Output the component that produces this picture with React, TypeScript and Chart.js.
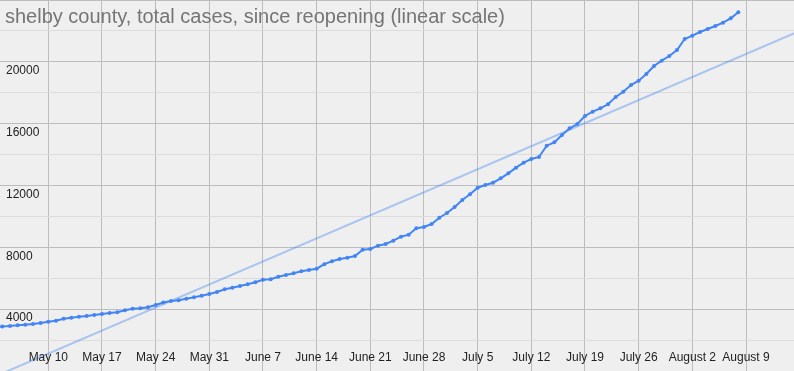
import React, { useEffect, useRef } from "react";
import { Chart, registerables } from "chart.js";

Chart.register(...registerables);

const titleText = "shelby county, total cases, since reopening (linear scale)";

// Daily totals, index 0 = May 3, last = August 8
const totalCases = [
  2840, 2880, 2911, 2955, 2996, 3040, 3105, 3190, 3254, 3383, 3448, 3513, 3558, 3623, 3687,
  3752, 3797, 3926, 4030, 4056, 4121, 4270, 4430, 4528, 4573, 4677, 4768, 4871, 4981,
  5111, 5285, 5389, 5499, 5609, 5738, 5906, 5932, 6100, 6210, 6320, 6449, 6534, 6618, 6910,
  7096, 7245, 7330, 7439, 7847, 7892, 8106, 8216, 8429, 8688, 8817, 9231, 9315, 9509, 9917,
  10221, 10609, 11062, 11431, 11858, 12032, 12181, 12466, 12789, 13152, 13475, 13714, 13844,
  14575, 14795, 15267, 15700, 15978, 16496, 16774, 16994, 17253, 17725, 18068, 18501, 18780,
  19213, 19730, 20073, 20377, 20765, 21477, 21690, 21930, 22124, 22318, 22531, 22816, 23204,
];

// x tick positions (days since May 3) and their labels
const tickDays = [7, 14, 21, 28, 35, 42, 49, 56, 63, 70, 77, 84, 91, 98];
const tickLabels = [
  "May 10", "May 17", "May 24", "May 31", "June 7", "June 14", "June 21",
  "June 28", "July 5", "July 12", "July 19", "July 26", "August 2", "August 9",
];

const yLabelValues = [4000, 8000, 12000, 16000, 20000];

// linear trendline read at its two ends (days since May 3)
const trendDays = [0, 105];
const trendValues = [-365, 22000];

const xMin = 0.7;
const xMax = 104.26;
const yMin = 0;
const yMax = 24000;
const yStep = 2000;

const overlayPlugin = {
  id: "overlayText",
  afterDraw(chart: any) {
    const ctx = chart.ctx;
    const xs = chart.scales.x;
    const ys = chart.scales.y;
    const area = chart.chartArea;
    ctx.save();
    ctx.font = '12px "Liberation Sans", Arial, sans-serif';
    ctx.fillStyle = "#222222";
    ctx.textAlign = "center";
    ctx.textBaseline = "middle";
    tickDays.forEach((d, i) => {
      ctx.fillText(tickLabels[i], xs.getPixelForValue(d), area.bottom - 13);
    });
    ctx.textAlign = "left";
    yLabelValues.forEach((v) => {
      ctx.fillText(String(v), area.left + 6, ys.getPixelForValue(v) + 9);
    });
    ctx.font = '20px "Liberation Sans", Arial, sans-serif';
    ctx.fillStyle = "#757575";
    ctx.textBaseline = "alphabetic";
    ctx.fillText(titleText, area.left + 5, area.top + 23);
    ctx.restore();
  },
};

export default function App() {
  const canvasRef = useRef<HTMLCanvasElement | null>(null);

  useEffect(() => {
    document.body.style.margin = "0";
    const canvas = canvasRef.current;
    if (!canvas) return;
    const chart = new Chart(canvas, {
      type: "line",
      data: {
        datasets: [
          {
            label: "trend",
            data: trendDays.map((d, i) => ({ x: d, y: trendValues[i] })),
            borderColor: "rgba(66,133,244,0.4)",
            borderWidth: 2,
            pointRadius: 0,
            fill: false,
            order: 2,
          },
          {
            label: "total cases",
            data: totalCases.map((v, i) => ({ x: i, y: v })),
            borderColor: "#4285f4",
            backgroundColor: "#4285f4",
            borderWidth: 2,
            pointRadius: 2,
            pointBorderWidth: 0,
            tension: 0,
            fill: false,
            order: 1,
          },
        ],
      },
      options: {
        animation: false,
        responsive: false,
        maintainAspectRatio: false,
        layout: { padding: 0, autoPadding: false },
        plugins: {
          legend: { display: false },
          tooltip: { enabled: false },
          title: { display: false },
        },
        scales: {
          x: {
            type: "linear",
            min: xMin,
            max: xMax,
            afterBuildTicks: (scale: any) => {
              scale.ticks = tickDays.map((v) => ({ value: v }));
            },
            ticks: { display: false },
            grid: { color: "#bdbdbd", drawTicks: false, lineWidth: 1 },
            border: { display: false },
          },
          y: {
            type: "linear",
            min: yMin,
            max: yMax,
            ticks: { display: false, stepSize: yStep },
            grid: {
              color: (c: any) => (c.tick && c.tick.value % 4000 === 0 ? "#bdbdbd" : "#dcdcdc"),
              drawTicks: false,
              lineWidth: 1,
            },
            border: { display: false },
          },
        },
      },
      plugins: [overlayPlugin],
    });
    return () => chart.destroy();
  }, []);

  return (
    <div
      style={{
        position: "fixed",
        left: 0,
        top: 0,
        width: 794,
        height: 371,
        background: "#efefef",
      }}
    >
      <canvas ref={canvasRef} width={794} height={371} style={{ width: 794, height: 371, display: "block" }} />
    </div>
  );
}
